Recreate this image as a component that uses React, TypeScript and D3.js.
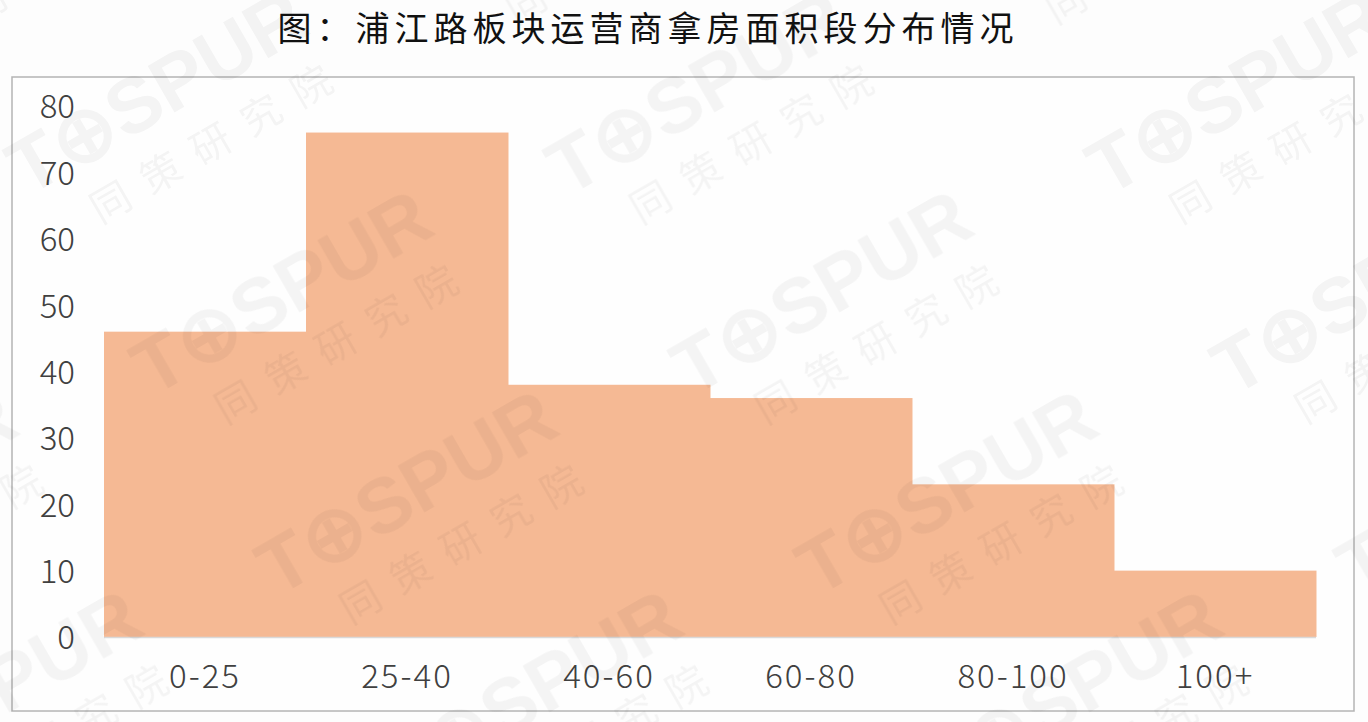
import { useEffect, useRef } from 'react';
import * as d3 from 'd3';

// 面积段 (㎡) and the number of units taken by operators in each range
const categories = ['0-25', '25-40', '40-60', '60-80', '80-100', '100+'];
const counts = [46, 76, 38, 36, 23, 10];
const yTicks = [0, 10, 20, 30, 40, 50, 60, 70, 80];
const title = '图：浦江路板块运营商拿房面积段分布情况';

const W = 1368;
const H = 722;

export default function App() {
  const ref = useRef<SVGSVGElement | null>(null);

  useEffect(() => {
    const svg = d3.select(ref.current);
    svg.selectAll('*').remove();

    const margin = { top: 106, right: 52, bottom: 85, left: 104 };
    const innerW = W - margin.left - margin.right;
    const innerH = H - margin.top - margin.bottom;

    const x = d3.scaleBand<string>().domain(categories).range([0, innerW]).padding(0);
    const y = d3.scaleLinear().domain([0, 80]).range([innerH, 0]);

    svg.append('rect').attr('width', W).attr('height', H).attr('fill', '#fdfdfd');

    // title
    svg
      .append('text')
      .attr('x', 648)
      .attr('y', 41)
      .attr('text-anchor', 'middle')
      .attr('font-family', '"Noto Sans CJK SC", sans-serif')
      .attr('font-size', 34)
      .attr('letter-spacing', 5)
      .attr('fill', '#111')
      .text(title);

    // frame
    svg
      .append('rect')
      .attr('x', 12)
      .attr('y', 77)
      .attr('width', 1342)
      .attr('height', 634)
      .attr('fill', '#fefefe')
      .attr('stroke', '#b4b4b4')
      .attr('stroke-width', 1.5);

    const g = svg.append('g').attr('transform', `translate(${margin.left},${margin.top})`);

    g.selectAll('rect.bar')
      .data(categories)
      .join('rect')
      .attr('class', 'bar')
      .attr('x', (d) => x(d) ?? 0)
      .attr('y', (_, i) => y(counts[i]))
      .attr('width', x.bandwidth() + 0.5)
      .attr('height', (_, i) => innerH - y(counts[i]))
      .attr('fill', '#f5b994');

    // baseline
    g.append('line')
      .attr('x1', 0)
      .attr('x2', innerW)
      .attr('y1', innerH + 0.5)
      .attr('y2', innerH + 0.5)
      .attr('stroke', '#d9d9d9')
      .attr('stroke-width', 1.5);

    const font = '"Noto Sans CJK SC", "Noto Sans", sans-serif';

    const yAxis = d3.axisLeft(y).tickValues(yTicks).tickSize(0).tickPadding(29);
    g.append('g')
      .call(yAxis)
      .call((sel) => sel.select('.domain').remove())
      .call((sel) =>
        sel
          .selectAll('text')
          .attr('font-family', font)
          .attr('font-weight', 300)
          .attr('font-size', 33)
          .attr('fill', '#404040')
          .attr('dy', '0.36em')
      );

    const xAxis = d3.axisBottom(x).tickSize(0).tickPadding(28);
    g.append('g')
      .attr('transform', `translate(0,${innerH})`)
      .call(xAxis)
      .call((sel) => sel.select('.domain').remove())
      .call((sel) =>
        sel
          .selectAll('text')
          .attr('font-family', font)
          .attr('font-weight', 300)
          .attr('font-size', 33)
          .attr('letter-spacing', 2)
          .attr('fill', '#404040')
      );

    // faint TOSPUR watermark tiled over the whole page
    const wm = svg.append('g').attr('pointer-events', 'none').attr('opacity', 0.04);
    const tiles: [number, number][] = [];
    for (let j = -1; j < 4; j++) {
      for (let i = -1; i < 4; i++) {
        tiles.push([170 + 540 * i + 125 * j, 115 + 200 * j]);
      }
    }
    tiles
      .filter(([tx, ty]) => tx > -150 && tx < W + 150 && ty > -100 && ty < H + 100)
      .forEach(([tx, ty]) => {
        const t = wm.append('g').attr('transform', `translate(${tx},${ty}) rotate(-30)`);
        t.append('text')
          .attr('text-anchor', 'middle')
          .attr('font-family', '"Liberation Sans", Arial, sans-serif')
          .attr('font-weight', 'bold')
          .attr('font-size', 78)
          .attr('fill', '#000')
          .text('T⊕SPUR');
        t.append('text')
          .attr('x', 30)
          .attr('y', 60)
          .attr('text-anchor', 'middle')
          .attr('font-family', '"Noto Sans CJK SC", sans-serif')
          .attr('font-size', 40)
          .attr('letter-spacing', 18)
          .attr('fill', '#000')
          .text('同策研究院');
      });
  }, []);

  return (
    <svg
      ref={ref}
      width={W}
      height={H}
      style={{ position: 'absolute', left: 0, top: 0, display: 'block' }}
    />
  );
}
